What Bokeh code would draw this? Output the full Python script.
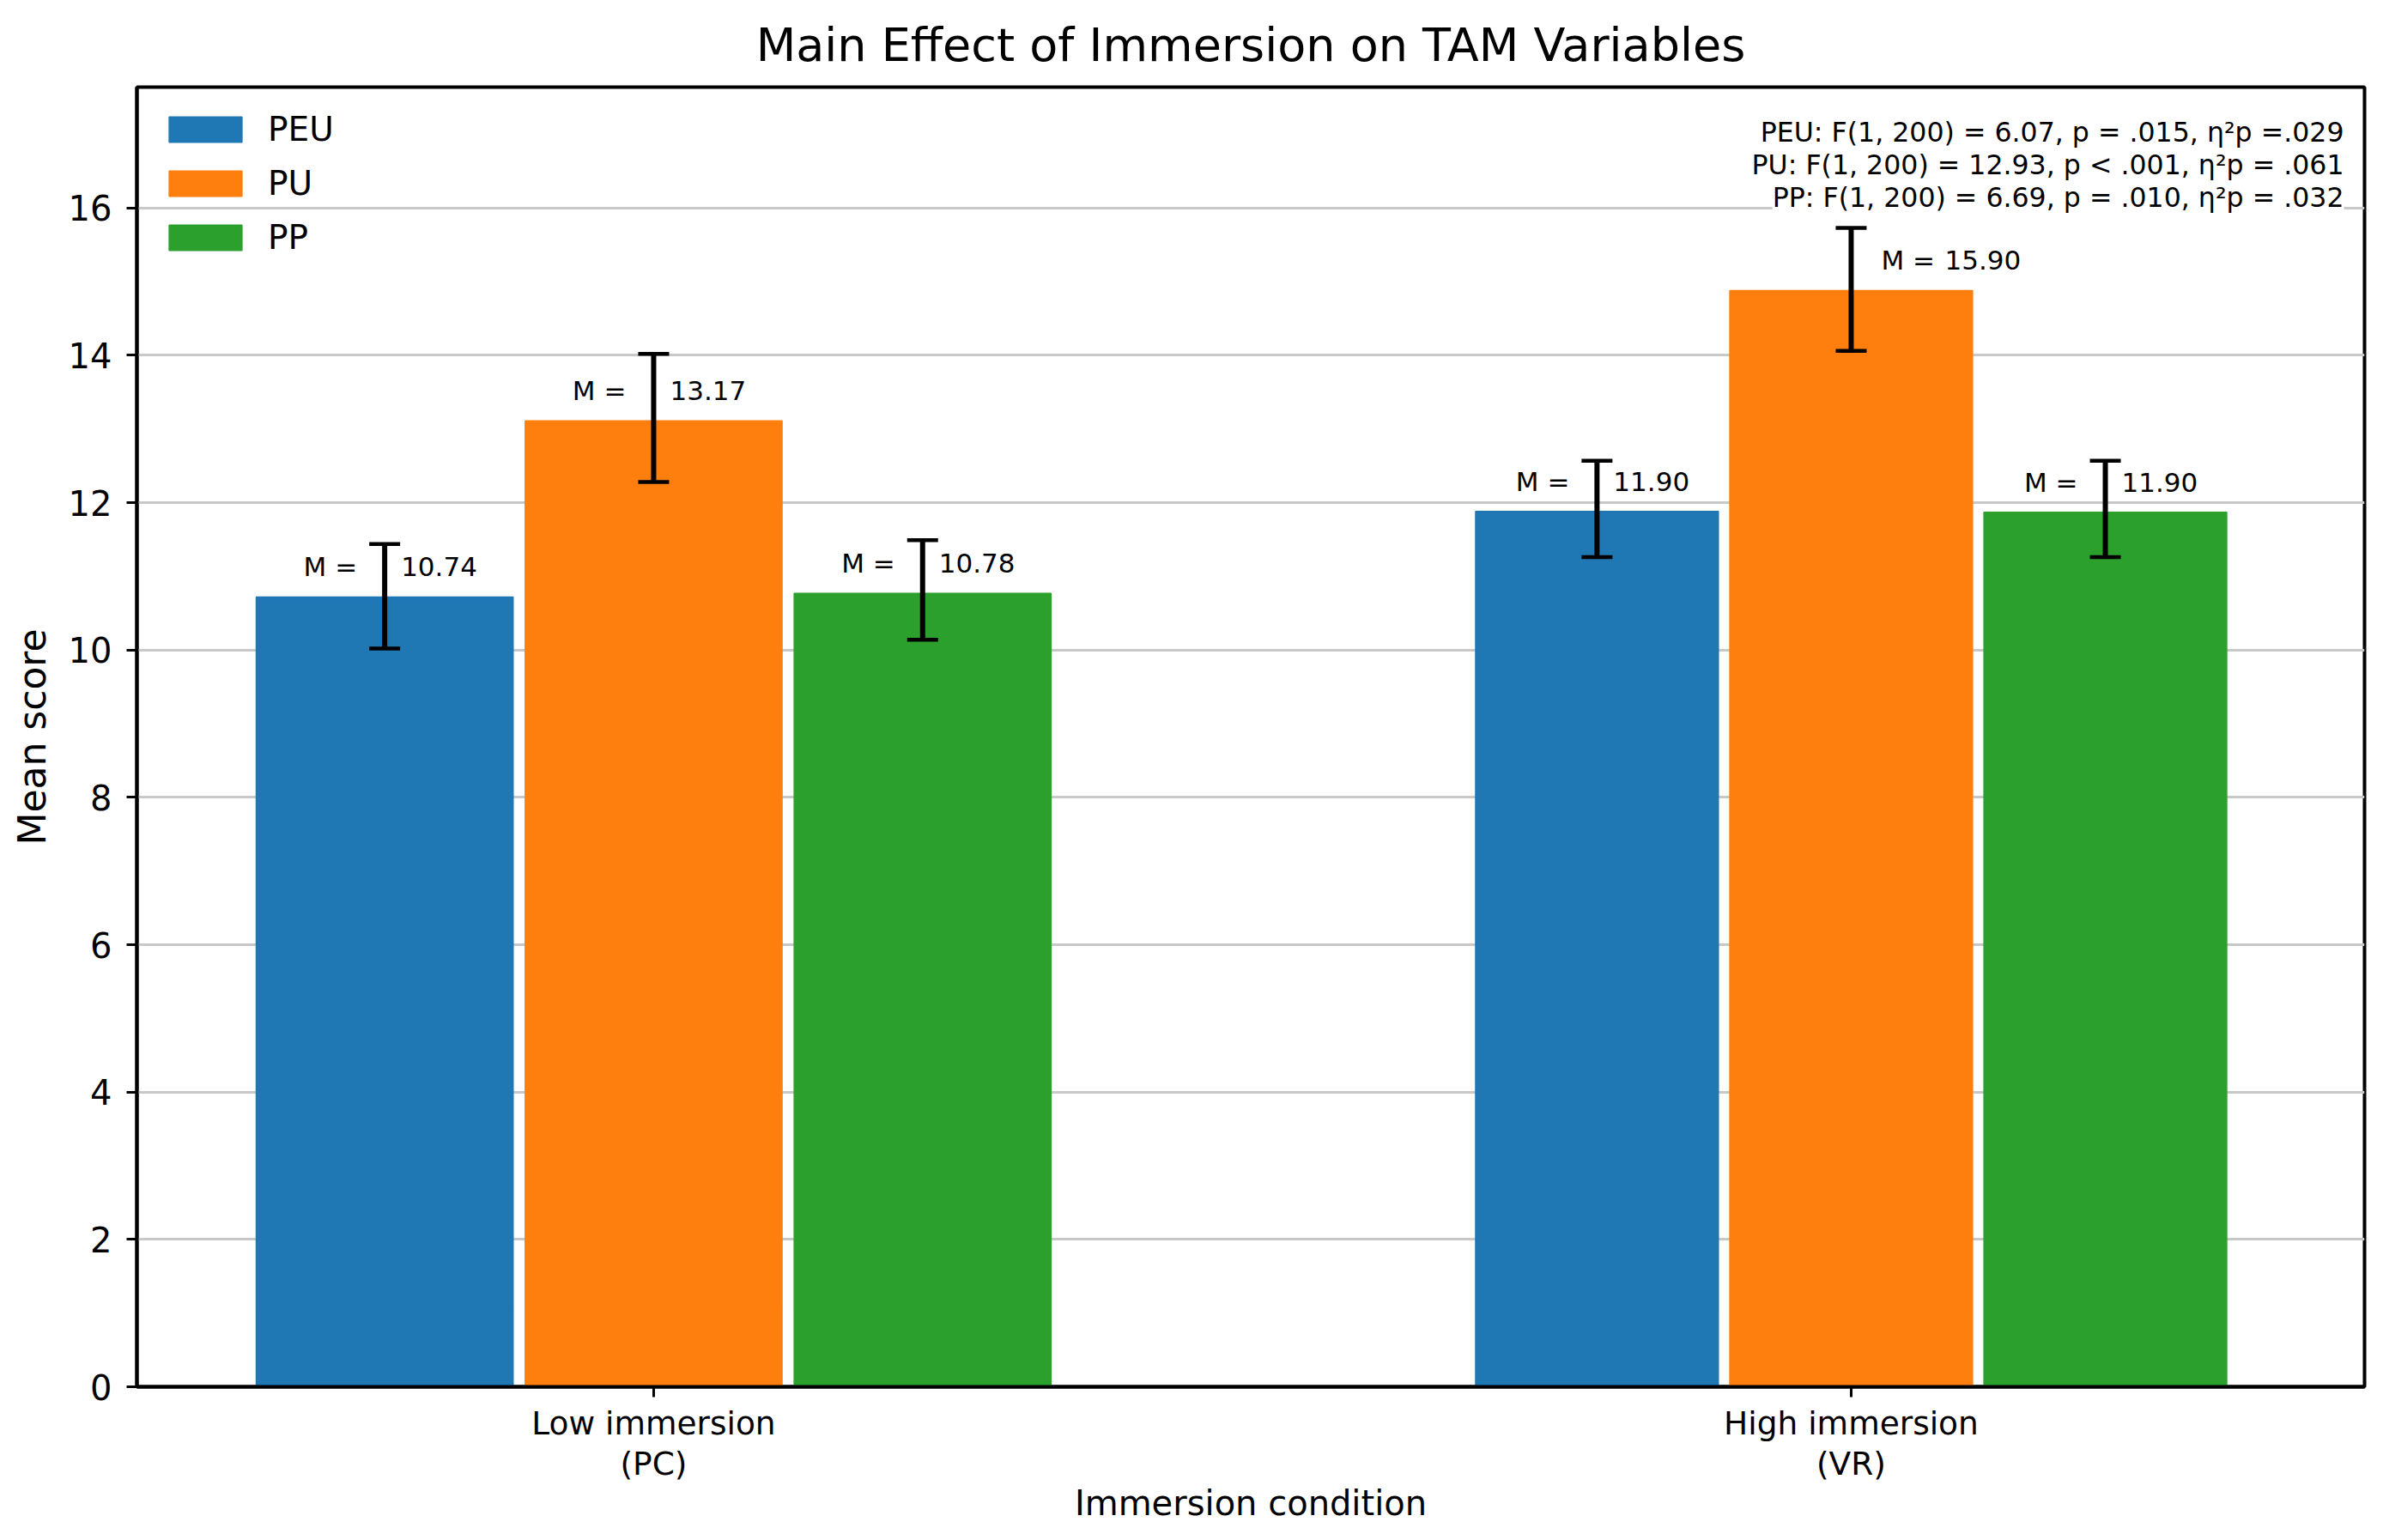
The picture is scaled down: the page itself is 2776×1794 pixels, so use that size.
from bokeh.plotting import figure
from bokeh.models import ColumnDataSource, Whisker, TeeHead, FixedTicker, Legend, LegendItem, Range1d
from bokeh.core.properties import value
from bokeh.embed import file_html
from bokeh.resources import INLINE

# ---------------- data ----------------
conditions = ["Low immersion\n(PC)", "High immersion\n(VR)"]
series = ["PEU", "PU", "PP"]
peu_mean = [10.72, 11.88]
pu_mean = [13.11, 14.88]
pp_mean = [10.77, 11.87]
peu_lower = [10.02, 11.26]
peu_upper = [11.44, 12.57]
pu_lower = [12.28, 14.06]
pu_upper = [14.02, 15.73]
pp_lower = [10.14, 11.26]
pp_upper = [11.49, 12.57]
peu_label = ["10.74", "11.90"]
pu_label = ["13.17", "15.90"]
pp_label = ["10.78", "11.90"]
stats_lines = [
    "PEU: F(1, 200) = 6.07, p = .015, η²p =.029",
    "PU: F(1, 200) = 12.93, p < .001, η²p = .061",
    "PP: F(1, 200) = 6.69, p = .010, η²p = .032",
]
y_ticks = [0, 2, 4, 6, 8, 10, 12, 14, 16]

# ---------------- style ----------------
FONT = "DejaVu Sans"
colors = ["#1f77b4", "#ff7f0e", "#2ca02c"]
group_x = [0.0, 1.0]
offsets = [-0.2246, 0.0, 0.2246]
group_scale = [1.0, 0.945]
bar_width = 0.2145
x_min, x_max = -0.4315, 1.4287
y_min, y_max = 0.0, 17.64
# label placement (screen px) per series / group
prefix_dx = [[-32, -32], [-32, 35], [-32, -32]]
prefix_align = [["right", "right"], ["right", "left"], ["right", "right"]]
value_dx = [[19, 19], [19, 109], [19, 19]]
stats_dy = [52, 90.6, 128.5]

p = figure(
    frame_width=2595, frame_height=1514,
    x_range=Range1d(x_min, x_max), y_range=Range1d(y_min, y_max),
    output_backend="svg", toolbar_location=None,
    min_border_left=159, min_border_right=20, min_border_top=99, min_border_bottom=175,
    title="Main Effect of Immersion on TAM Variables",
)
p.background_fill_color = "white"
p.border_fill_color = "white"

means = [peu_mean, pu_mean, pp_mean]
lowers = [peu_lower, pu_lower, pp_lower]
uppers = [peu_upper, pu_upper, pp_upper]
labels = [peu_label, pu_label, pp_label]

items = []
for i, name in enumerate(series):
    xs = [g + offsets[i] * s for g, s in zip(group_x, group_scale)]
    ws = [bar_width * s for s in group_scale]
    src = ColumnDataSource(dict(
        x=xs, top=means[i], w=ws, lower=lowers[i], upper=uppers[i],
        prefix=["M ="] * len(xs), val=labels[i],
        pdx=prefix_dx[i], palign=prefix_align[i], vdx=value_dx[i],
    ))
    r = p.vbar(x="x", top="top", width="w", bottom=0, source=src,
               fill_color=colors[i], line_color=colors[i], line_width=1.5)
    items.append(LegendItem(label=name, renderers=[r]))
    p.text(x="x", y="top", text="prefix", source=src, x_offset="pdx", y_offset=-35,
           text_align="palign", text_baseline="middle",
           text_font=value(FONT), text_font_size="31px", text_color="black")
    p.text(x="x", y="top", text="val", source=src, x_offset="vdx", y_offset=-35,
           text_align="left", text_baseline="middle",
           text_font=value(FONT), text_font_size="31px", text_color="black")
    wk = Whisker(source=src, base="x", upper="upper", lower="lower",
                 line_color="black", line_width=6, level="overlay")
    wk.upper_head = TeeHead(size=36, line_width=4.5, line_color="black")
    wk.lower_head = TeeHead(size=36, line_width=4.5, line_color="black")
    p.add_layout(wk)

# stats annotation
stats_src = ColumnDataSource(dict(
    x=[x_max] * len(stats_lines), y=[y_max] * len(stats_lines),
    t=stats_lines, dy=stats_dy,
))
p.text(x="x", y="y", text="t", source=stats_src, x_offset=-24, y_offset="dy",
       text_align="right", text_baseline="middle",
       text_font=value(FONT), text_font_size="31.6px", text_color="black",
       background_fill_color="white")

legend = Legend(items=items, location="top_left")
legend.margin = 15
legend.padding = 12
legend.spacing = 18
legend.glyph_width = 106
legend.glyph_height = 37
legend.label_height = 30
legend.label_standoff = 20
legend.label_text_font = FONT
legend.label_text_font_size = "39px"
legend.label_text_color = "black"
legend.border_line_alpha = 0
legend.background_fill_alpha = 0
p.add_layout(legend)

# axes
p.xaxis.ticker = FixedTicker(ticks=group_x)
p.xaxis.major_label_overrides = {0: conditions[0], 1: conditions[1]}
p.yaxis.ticker = FixedTicker(ticks=y_ticks)
p.xgrid.visible = False
p.ygrid.grid_line_color = "#c8c8c8"
p.ygrid.grid_line_width = 3

p.xaxis.axis_label = "Immersion condition"
p.yaxis.axis_label = "Mean score"
for ax in (p.xaxis[0], p.yaxis[0]):
    ax.major_label_text_font = FONT
    ax.major_label_text_color = "black"
    ax.axis_label_text_font = FONT
    ax.axis_label_text_font_style = "normal"
    ax.axis_label_text_color = "black"
    ax.axis_line_width = 4
    ax.axis_line_color = "black"
    ax.major_tick_line_width = 3
    ax.major_tick_line_color = "black"
    ax.major_tick_in = 0
    ax.minor_tick_in = 0
    ax.minor_tick_out = 0
p.yaxis.major_label_text_font_size = "40px"
p.yaxis.axis_label_text_font_size = "44px"
p.xaxis.major_label_text_font_size = "37.5px"
p.xaxis.axis_label_text_font_size = "40px"
p.yaxis.major_tick_out = 12
p.yaxis.major_label_standoff = 17
p.yaxis.axis_label_standoff = 14
p.xaxis.major_tick_out = 12
p.xaxis.major_label_standoff = 8
p.xaxis.major_label_text_line_height = 1.08
p.xaxis.axis_label_standoff = -2

p.outline_line_color = "black"
p.outline_line_width = 4
p.outline_line_alpha = 1

p.title.text_font = FONT
p.title.text_font_size = "54px"
p.title.text_font_style = "normal"
p.title.align = "center"
p.title.text_color = "black"
p.title.standoff = 36

open("out.html", "w").write(file_html(p, INLINE))
